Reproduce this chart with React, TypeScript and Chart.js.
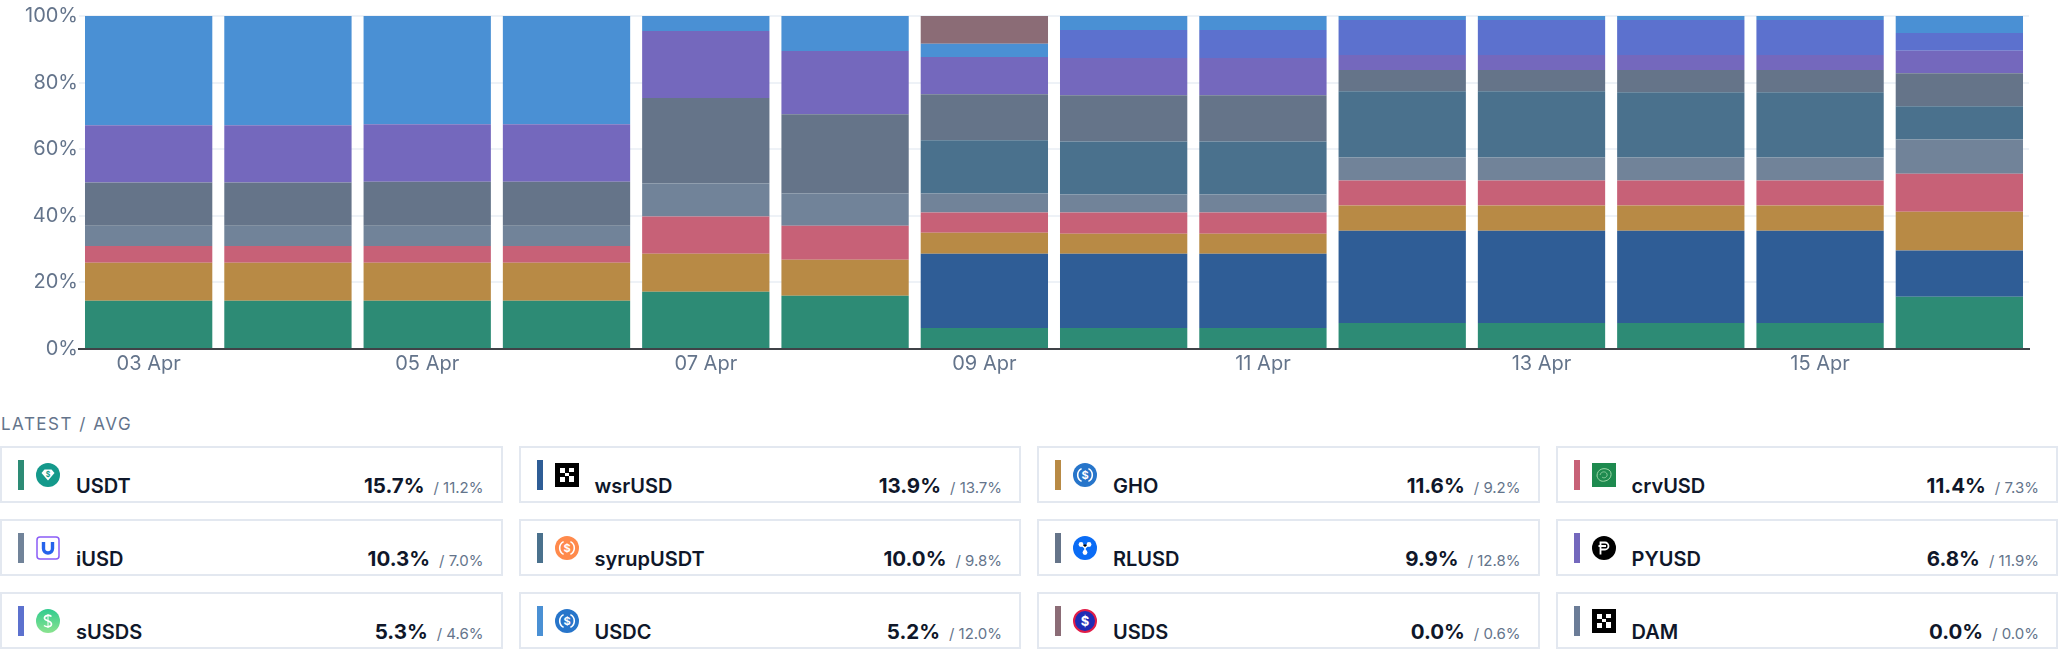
import React, { useEffect, useRef } from 'react';
import { Chart, registerables } from 'chart.js';

Chart.register(...registerables);

// daily share of each token, in percent
const days = [
    '03 Apr', '04 Apr', '05 Apr', '06 Apr', '07 Apr', '08 Apr', '09 Apr',
    '10 Apr', '11 Apr', '12 Apr', '13 Apr', '14 Apr', '15 Apr', '16 Apr',
];
const shownDays = ['03 Apr', '05 Apr', '07 Apr', '09 Apr', '11 Apr', '13 Apr', '15 Apr'];

const usdt = [14.5, 14.5, 14.5, 14.5, 17.2, 16.0, 6.3, 6.3, 6.3, 7.8, 7.8, 7.8, 7.8, 15.7];
const wsrUsd = [0, 0, 0, 0, 0, 0, 22.3, 22.3, 22.3, 27.7, 27.7, 27.7, 27.7, 13.9];
const gho = [11.4, 11.4, 11.4, 11.4, 11.4, 10.8, 6.3, 6.0, 6.0, 7.6, 7.6, 7.6, 7.6, 11.6];
const crvUsd = [5.0, 5.0, 5.0, 5.0, 11.2, 10.2, 6.1, 6.4, 6.4, 7.5, 7.5, 7.5, 7.5, 11.4];
const iUsd = [6.1, 6.1, 6.1, 6.1, 9.9, 9.7, 5.7, 5.4, 5.4, 6.9, 6.9, 6.9, 6.9, 10.3];
const syrupUsdt = [0, 0, 0, 0, 0, 0, 16.0, 15.9, 15.9, 19.9, 19.9, 19.6, 19.6, 10.0];
const rlUsd = [13.0, 13.0, 13.2, 13.2, 25.7, 23.8, 13.8, 13.9, 13.9, 6.4, 6.4, 6.7, 6.7, 9.9];
const pyUsd = [17.2, 17.2, 17.3, 17.3, 20.1, 19.0, 11.2, 11.2, 11.2, 4.5, 4.5, 4.5, 4.5, 6.8];
const sUsds = [0, 0, 0, 0, 0, 0, 0, 8.4, 8.4, 10.5, 10.5, 10.5, 10.5, 5.3];
const usdc = [32.8, 32.8, 32.5, 32.5, 4.5, 10.5, 4.0, 4.2, 4.2, 1.2, 1.2, 1.2, 1.2, 5.2];
const usds = [0, 0, 0, 0, 0, 0, 8.3, 0, 0, 0, 0, 0, 0, 0];
const dam = [0, 0, 0, 0, 0, 0, 0, 0, 0, 0, 0, 0, 0, 0];

const seriesNames = ['USDT', 'wsrUSD', 'GHO', 'crvUSD', 'iUSD', 'syrupUSDT', 'RLUSD', 'PYUSD', 'sUSDS', 'USDC', 'USDS', 'DAM'];
const seriesValues = [usdt, wsrUsd, gho, crvUsd, iUsd, syrupUsdt, rlUsd, pyUsd, sUsds, usdc, usds, dam];
const seriesColors = [
    '#2D8B75', '#2F5D96', '#B88A45', '#C76177', '#718399', '#4A718D',
    '#657489', '#7468BD', '#5C71CE', '#4A90D4', '#8B6C76', '#6B7C97',
];

// legend figures: latest day and period average
const latestShare = [15.7, 13.9, 11.6, 11.4, 10.3, 10.0, 9.9, 6.8, 5.3, 5.2, 0.0, 0.0];
const avgShare = [11.2, 13.7, 9.2, 7.3, 7.0, 9.8, 12.8, 11.9, 4.6, 12.0, 0.6, 0.0];

const FONT = 'Inter, "Noto Sans", sans-serif';

const UsdcLike: React.FC<{ fill: string }> = ({ fill }) => (
    <svg width="24" height="24" viewBox="0 0 24 24">
        <circle cx="12" cy="12" r="12" fill={fill} />
        <path d="M8.6 5.6 A7.2 7.2 0 0 0 8.6 18.4" stroke="#fff" strokeWidth="1.6" fill="none" />
        <path d="M15.4 5.6 A7.2 7.2 0 0 1 15.4 18.4" stroke="#fff" strokeWidth="1.6" fill="none" />
        <text x="12" y="16.2" textAnchor="middle" fontSize="11" fontWeight="700" fill="#fff" fontFamily={FONT}>$</text>
    </svg>
);

const BlockIcon: React.FC = () => (
    <svg width="24" height="24" viewBox="0 0 24 24">
        <rect width="24" height="24" fill="#000" />
        <rect x="5" y="5" width="5" height="5" fill="#fff" />
        <rect x="10" y="10" width="4" height="3" fill="#fff" />
        <rect x="5" y="14" width="5" height="5" fill="#fff" />
        <rect x="14" y="13" width="5" height="6" fill="#fff" />
        <rect x="14" y="5" width="5" height="4" fill="#fff" />
    </svg>
);

const TokenIcon: React.FC<{ name: string }> = ({ name }) => {
    switch (name) {
        case 'USDT':
            return (
                <svg width="24" height="24" viewBox="0 0 24 24">
                    <circle cx="12" cy="12" r="12" fill="#14998B" />
                    <path d="M5.5 10 L8.5 6.5 H15.5 L18.5 10 L12 17.5 Z" fill="#fff" />
                    <text x="12" y="13.6" textAnchor="middle" fontSize="7" fontWeight="700" fill="#14998B" fontFamily={FONT}>$</text>
                </svg>
            );
        case 'wsrUSD':
        case 'DAM':
            return <BlockIcon />;
        case 'GHO':
        case 'USDC':
            return <UsdcLike fill="#2775CA" />;
        case 'syrupUSDT':
            return <UsdcLike fill="#FF8A4C" />;
        case 'crvUSD':
            return (
                <svg width="24" height="24" viewBox="0 0 24 24">
                    <rect width="24" height="24" fill="#1E8A4F" />
                    <path d="M5 13 C5 6 12 4 17 7 C21 10 19 17 13 18 C9 19 6 17 5 13 Z" stroke="#9ED8A8" strokeWidth="1" fill="none" />
                    <path d="M8 12 C9 8 14 8 15 11 C16 14 12 16 10 14" stroke="#9ED8A8" strokeWidth="0.8" fill="none" />
                </svg>
            );
        case 'iUSD':
            return (
                <svg width="24" height="24" viewBox="0 0 24 24">
                    <rect x="1" y="1" width="22" height="22" rx="3" fill="#fff" stroke="#8B5CF6" strokeWidth="1.5" />
                    <path d="M7.5 6 V12.5 A4.5 4.5 0 0 0 16.5 12.5 V6" stroke="#2563EB" strokeWidth="3.4" fill="none" />
                </svg>
            );
        case 'RLUSD':
            return (
                <svg width="24" height="24" viewBox="0 0 24 24">
                    <circle cx="12" cy="12" r="12" fill="#0A6CF5" />
                    <path d="M8 8.5 L12 12 L16 8.5 M12 12 L12 16.5" stroke="#fff" strokeWidth="1.6" />
                    <circle cx="8" cy="8.5" r="2.4" fill="#fff" />
                    <circle cx="16" cy="8.5" r="2.4" fill="#fff" />
                    <circle cx="12" cy="16.5" r="2.4" fill="#fff" />
                </svg>
            );
        case 'PYUSD':
            return (
                <svg width="24" height="24" viewBox="0 0 24 24">
                    <circle cx="12" cy="12" r="12" fill="#000" />
                    <path d="M8.5 18.5 V6.5 H13 A3.5 3.5 0 0 1 13 13.5 H8.5 M6.5 10 H14" stroke="#fff" strokeWidth="1.8" fill="none" />
                </svg>
            );
        case 'sUSDS':
            return (
                <svg width="24" height="24" viewBox="0 0 24 24">
                    <defs>
                        <linearGradient id="susds" x1="0" y1="0" x2="0" y2="1">
                            <stop offset="0" stopColor="#2FCB8F" />
                            <stop offset="1" stopColor="#8BE38F" />
                        </linearGradient>
                    </defs>
                    <circle cx="12" cy="12" r="12" fill="url(#susds)" />
                    <path d="M15.5 7.5 C13 5.5 8 6.5 8.5 9.5 C9 12 15.5 11.5 15.5 15 C15.5 18 10.5 18.5 8 16.5" stroke="#fff" strokeWidth="1.6" fill="none" />
                    <path d="M12 5 V19" stroke="#fff" strokeWidth="1" />
                </svg>
            );
        case 'USDS':
            return (
                <svg width="24" height="24" viewBox="0 0 24 24">
                    <circle cx="12" cy="12" r="11" fill="#1F2DB5" stroke="#E11D48" strokeWidth="2" />
                    <text x="12" y="16.5" textAnchor="middle" fontSize="13" fontWeight="700" fill="#fff" fontFamily={FONT}>$</text>
                </svg>
            );
        default:
            return null;
    }
};

const App: React.FC = () => {
    const canvasRef = useRef<HTMLCanvasElement | null>(null);

    useEffect(() => {
        document.body.style.margin = '0';
        if (!canvasRef.current) return;
        const chart = new Chart(canvasRef.current, {
            type: 'bar',
            data: {
                labels: days,
                datasets: seriesNames.map((name, i) => ({
                    label: name,
                    data: seriesValues[i],
                    backgroundColor: seriesColors[i],
                    borderWidth: 0,
                    barPercentage: 0.914,
                    categoryPercentage: 1,
                })),
            },
            options: {
                animation: false,
                responsive: true,
                maintainAspectRatio: false,
                layout: { padding: { left: 24, right: 29, top: 16, bottom: 1 } },
                plugins: {
                    legend: { display: false },
                    tooltip: { enabled: false },
                },
                scales: {
                    x: {
                        stacked: true,
                        grid: { display: false, drawTicks: false },
                        border: { display: true, color: '#3F4247', width: 2 },
                        ticks: {
                            autoSkip: false,
                            maxRotation: 0,
                            padding: 3,
                            color: '#64748B',
                            font: { family: FONT, size: 20 },
                            callback: (_v, i) => (shownDays.includes(days[i]) ? days[i] : ''),
                        },
                    },
                    y: {
                        stacked: true,
                        min: 0,
                        max: 100,
                        grid: { color: '#EEF2F7', lineWidth: 2, drawTicks: false },
                        border: { display: false },
                        ticks: {
                            stepSize: 20,
                            padding: 1,
                            color: '#64748B',
                            font: { family: FONT, size: 20 },
                            callback: (v) => v + '%',
                        },
                    },
                },
            },
        });
        return () => chart.destroy();
    }, []);

    return (
        <div style={{ width: 2058, fontFamily: FONT }}>
            <div style={{ position: 'relative', height: 380 }}>
                <canvas ref={canvasRef}></canvas>
            </div>
            <div style={{ marginTop: 34, marginLeft: 1, fontSize: 17, lineHeight: '20px', letterSpacing: '1.5px', color: '#64748B' }}>
                LATEST / AVG
            </div>
            <div style={{ display: 'grid', gridTemplateColumns: 'repeat(4, 1fr)', columnGap: 16, rowGap: 16, marginTop: 12 }}>
                {seriesNames.map((name, i) => (
                    <div key={name} style={{ position: 'relative', height: 57, boxSizing: 'border-box', border: '2px solid #E3E8F0' }}>
                        <div style={{ position: 'absolute', left: 16, top: 12, width: 6, height: 30, background: seriesColors[i] }} />
                        <div style={{ position: 'absolute', left: 34, top: 15, width: 24, height: 24 }}>
                            <TokenIcon name={name} />
                        </div>
                        <div style={{ position: 'absolute', left: 74, right: 17, top: 26, display: 'flex', alignItems: 'baseline', lineHeight: '24px' }}>
                            <span style={{ flex: 1, fontSize: 20, fontWeight: 600, color: '#0F172A' }}>{name}</span>
                            <span style={{ fontSize: 20.5, fontWeight: 700, color: '#0F172A' }}>{latestShare[i].toFixed(1)}%</span>
                            <span style={{ marginLeft: 9, fontSize: 15, color: '#64748B' }}>/ {avgShare[i].toFixed(1)}%</span>
                        </div>
                    </div>
                ))}
            </div>
        </div>
    );
};

export default App;
